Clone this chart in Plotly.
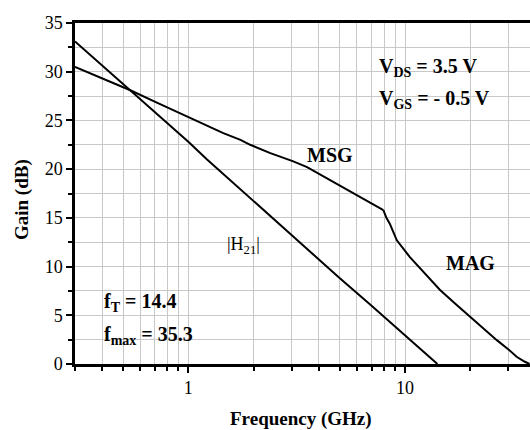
import numpy as np
import plotly.graph_objects as go

# |H21| data
h21_freq = [0.3, 0.54, 1.0, 1.22, 2.0, 3.0, 5.0, 6.9, 10.0, 12.0, 14.1]
h21_gain = [33.1, 28.1, 22.8, 21.0, 16.7, 13.2, 8.8, 6.1, 2.9, 1.4, 0.0]

# MSG data
msg_freq = [0.3, 0.4, 0.54, 0.72, 0.99, 1.45, 1.74, 1.93, 2.39, 3.05, 3.53, 5.0, 7.67, 7.94]
msg_gain = [30.5, 29.35, 28.1, 26.8, 25.4, 23.7, 23.0, 22.5, 21.65, 20.8, 20.2, 18.3, 16.0, 15.8]

# MAG data
mag_freq = [7.94, 8.2, 8.5, 9.16, 10.5, 12.0, 14.5, 17.0, 19.9, 23.0, 26.5, 30.0, 32.7, 35.7, 37.5]
mag_gain = [15.8, 15.0, 14.4, 12.7, 11.0, 9.6, 7.6, 6.2, 4.85, 3.6, 2.45, 1.5, 0.74, 0.23, 0.0]

x_major = [1, 10]
x_minor = [0.3, 0.4, 0.5, 0.6, 0.7, 0.8, 0.9, 2, 3, 4, 5, 6, 7, 8, 9, 20, 30]

FONT = "Liberation Serif"
line = dict(color="black", width=2)

fig = go.Figure()
fig.add_trace(go.Scatter(x=h21_freq, y=h21_gain, mode="lines", line=line, showlegend=False))
fig.add_trace(go.Scatter(x=msg_freq, y=msg_gain, mode="lines", line=line, showlegend=False))
fig.add_trace(go.Scatter(x=mag_freq, y=mag_gain, mode="lines", line=line, showlegend=False))

bold = dict(family=FONT, size=20, color="black", weight="bold")
ann = [
    dict(x=np.log10(1.79), y=12.2, text="|H<sub>21</sub>|", font=dict(family=FONT, size=18, color="#000000")),
    dict(x=np.log10(4.49), y=21.5, text="MSG", font=bold),
    dict(x=np.log10(20.1), y=10.4, text="MAG", font=bold),
    dict(x=np.log10(7.43), y=30.4, text="V<sub>DS</sub> = 3.5 V", font=bold, xanchor="left"),
    dict(x=np.log10(7.43), y=27.1, text="V<sub>GS</sub> = - 0.5 V", font=bold, xanchor="left"),
    dict(x=np.log10(0.4), y=6.3, text="f<sub>T</sub> = 14.4", font=bold, xanchor="left"),
    dict(x=np.log10(0.4), y=2.9, text="f<sub>max</sub> = 35.3", font=bold, xanchor="left"),
]
for a in ann:
    a.update(xref="x", yref="y", showarrow=False)
    a.setdefault("xanchor", "center")
    a["yanchor"] = "middle"

# axis titles as annotations for exact placement
ann.append(dict(xref="paper", yref="paper", x=(301 - 75) / 455, y=-(419 - 364) / 341,
                xanchor="center", yanchor="middle", showarrow=False,
                text="<b>Frequency (GHz)</b>", font=dict(family=FONT, size=19, color="black")))
ann.append(dict(xref="paper", yref="paper", x=-(75 - 22) / 455, y=(364 - 200) / 341,
                xanchor="center", yanchor="middle", showarrow=False, textangle=-90,
                text="<b>Gain (dB)</b>", font=dict(family=FONT, size=19, color="black")))

fig.update_layout(
    width=530, height=430,
    margin=dict(l=75, r=0, t=23, b=66),
    plot_bgcolor="white", paper_bgcolor="white",
    font=dict(family=FONT, size=18, color="black"),
    annotations=ann,
    xaxis=dict(
        type="log", range=[np.log10(0.3), np.log10(37.7)],
        tickmode="array", tickvals=x_major, ticktext=["1", "10"],
        ticks="outside", ticklen=6, tickwidth=2, tickcolor="black",
        showgrid=True, gridcolor="#c8c8c8", gridwidth=1,
        minor=dict(tickmode="array", tickvals=x_minor, ticks="outside", ticklen=4,
                   tickwidth=2, tickcolor="black", showgrid=True, gridcolor="#c8c8c8", gridwidth=1),
        showline=True, linecolor="black", linewidth=2.5, mirror=True,
        zeroline=False,
    ),
    yaxis=dict(
        range=[0, 35], dtick=5, tick0=0,
        ticks="outside", ticklen=6, tickwidth=2, tickcolor="black",
        showgrid=True, gridcolor="#c8c8c8", gridwidth=1,
        minor=dict(dtick=2.5, ticks="outside", ticklen=4, tickwidth=2, tickcolor="black",
                   showgrid=True, gridcolor="#c8c8c8", gridwidth=1),
        showline=True, linecolor="black", linewidth=2.5, mirror=False,
        zeroline=False,
    ),
)

fig.write_html("out.html")
